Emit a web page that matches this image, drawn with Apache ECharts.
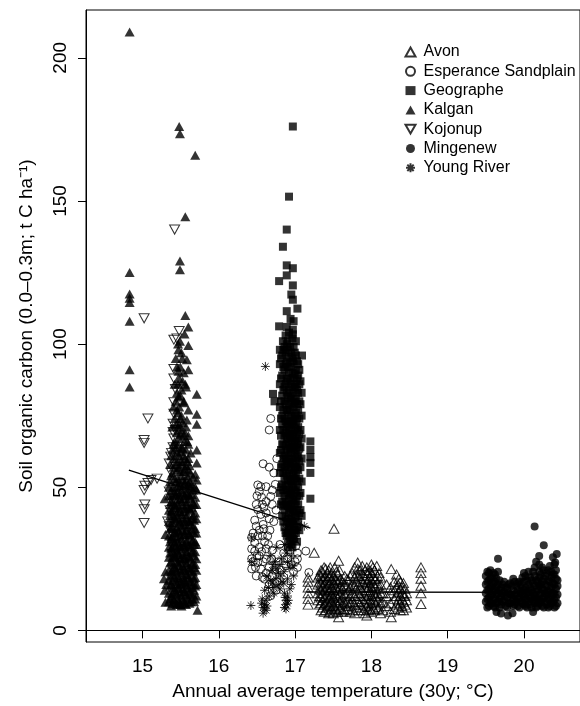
<!DOCTYPE html>
<html>
<head>
<meta charset="utf-8">
<script src="https://cdn.jsdelivr.net/npm/echarts@6/dist/echarts.min.js"></script>
<style>
  html, body { margin: 0; padding: 0; background: #fff; }
  #chart { width: 580px; height: 706px; }
</style>
</head>
<body>
<div id="chart"></div>
<script>
// tick labels
const xTicks = [15, 16, 17, 18, 19, 20]
const yTicks = [0, 50, 100, 150, 200]

// [temperature, carbon] points
const kalganSparse = [
  [14.83, 209], [14.83, 125], [14.83, 117.5], [14.83, 116], [14.83, 114.5], [14.83, 108], [14.83, 91], [14.83, 85],
  [15.48, 176], [15.49, 173.5], [15.69, 166], [15.56, 144.5], [15.49, 129], [15.49, 126], [15.56, 110], [15.6, 106],
  [15.55, 103.5], [15.49, 101], [15.6, 99.5], [15.47, 98], [15.52, 95], [15.58, 94.5], [15.6, 91], [15.47, 90.5],
  [15.56, 86], [15.71, 82.5], [15.47, 81.5], [15.54, 79.5], [15.71, 75.5], [15.6, 77], [15.71, 72], [15.58, 73.5],
  [15.6, 68], [15.55, 66], [15.71, 63], [15.71, 58.5], [15.69, 54.5], [15.71, 52.5],
  [15.3, 20.5], [15.28, 18], [15.31, 16], [15.29, 14], [15.3, 9.8], [15.29, 46], [15.3, 33.5], [15.72, 7], [15.49, 9.4]
]
// columns of the dense Kalgan block: [temperature, carbon values]
const kalganCore = [
  [15.345, [10, 13, 17.5, 21, 25.5, 29, 33, 38, 42, 47, 50]],
  [15.36, [11, 15.5, 19, 23.5, 27, 31, 35.5, 40, 44, 52, 58]],
  [15.375, [8.5, 12, 16, 20.5, 24, 28.5, 32, 36, 41.5, 45, 49, 54, 61]],
  [15.39, [9.5, 13, 17.5, 21, 25.5, 29, 33, 37.5, 42, 47, 55, 63, 71]],
  [15.405, [11, 15, 19.5, 23, 27.5, 31.5, 35.5, 40, 44.5, 50, 57, 65, 78]],
  [15.42, [10.5, 14, 18.5, 22, 26, 30.5, 34, 39, 43.5, 48, 53, 60, 66, 74, 86]],
  [15.435, [9.5, 13.5, 17, 21.5, 25.5, 29.5, 34, 38.5, 43, 47.5, 52, 58, 64, 72, 80, 95]],
  [15.45, [9, 12.5, 16, 20.5, 24, 28, 32.5, 36, 41, 45.5, 50, 56, 62, 69, 77, 83, 92]],
  [15.465, [11, 15, 19, 23.5, 27, 31, 35, 39.5, 44, 48.5, 53, 59, 65, 71, 76, 86, 100]],
  [15.48, [10, 14.5, 18, 22.5, 26.5, 30, 34.5, 38, 42.5, 47, 51.5, 57, 61, 67, 72, 78, 88]],
  [15.495, [9, 13, 16.5, 21, 25, 29, 33, 37.5, 41.5, 46, 50.5, 55.5, 62.5, 68.5, 74, 82, 92]],
  [15.51, [8.5, 12, 16.5, 20, 24.5, 28.5, 32, 36.5, 40.5, 45, 49, 54, 59, 64, 70, 75, 84, 97]],
  [15.525, [10.5, 14.5, 18.5, 22.5, 26.5, 30.5, 35, 39, 43.5, 48, 52.5, 58, 63.5, 72.5, 87]],
  [15.54, [10, 13.5, 17, 21.5, 25, 29.5, 33.5, 37, 41.5, 46, 50.5, 55.5, 61, 68, 80, 90]],
  [15.555, [9.5, 13.5, 17.5, 21, 25.5, 29.5, 33.5, 38, 42.5, 47, 51.5, 56.5, 60, 69]],
  [15.57, [9, 12.5, 16, 19.5, 23.5, 27.5, 31, 35, 39.5, 44, 48, 52.5, 57.5, 63, 71, 85]],
  [15.585, [11.5, 15.5, 19.5, 23.5, 27.5, 31.5, 36, 40.5, 45, 49.5, 54, 59, 66]],
  [15.6, [11, 14.5, 18.5, 22, 26, 30, 34, 38.5, 43, 47.5, 51, 56, 60, 65]],
  [15.615, [9.5, 13.5, 17, 21.5, 25.5, 29.5, 33.5, 38, 42.5, 47, 52, 57.5]],
  [15.63, [10, 13, 17, 21, 25, 29, 33, 37, 42, 46, 50, 55, 62]],
  [15.645, [11, 15, 19, 23, 27, 31, 35, 39, 43, 47.5, 51]],
  [15.66, [12.5, 16, 20.5, 23.5, 28, 31.5, 36.5, 40, 44.5, 49, 53.5]],
  [15.675, [10, 14, 18, 22, 26, 30, 34, 38.5, 44]],
  [15.69, [11, 15.5, 18.5, 23, 27.5, 31, 35.5, 41, 46.5, 50]],
  [15.705, [12, 16, 21, 25, 30, 34, 39, 44, 49]]
]
const kojonup = [
  [15.02, 109], [15.07, 74], [15.02, 66.5], [15.02, 65.5], [15.03, 50.5], [15.02, 49], [15.03, 44], [15.02, 42.3],
  [15.02, 37.5], [15.19, 53], [15.11, 52.5], [15.07, 51.5],
  [15.42, 140], [15.48, 104.6], [15.45, 102], [15.41, 101.5], [15.41, 91.3], [15.41, 88], [15.43, 84.3], [15.41, 79.7],
  [15.41, 75.7], [15.4, 72.2], [15.4, 69.3], [15.41, 67], [15.4, 64], [15.37, 60.7], [15.35, 58.3], [15.38, 55],
  [15.35, 48.5], [15.37, 46], [15.33, 38], [15.35, 36.4], [15.37, 34.7], [15.39, 26.7], [15.5, 51], [15.51, 16.3],
  [15.39, 30], [15.36, 42], [15.44, 57], [15.38, 62], [15.43, 70], [15.42, 45], [15.4, 40]
]
const geographeSparse = [
  [16.97, 176], [16.92, 151.5], [16.89, 140], [16.84, 134], [16.89, 127.5], [16.97, 126.5], [16.89, 124], [16.79, 122],
  [16.97, 120.5], [16.95, 117.3], [16.97, 115.5], [17.03, 112.4], [16.89, 111.5], [16.94, 108.8], [16.79, 106.2],
  [16.97, 105], [16.97, 103.4], [16.84, 101], [17.01, 101], [17.09, 96],
  [17.2, 66], [17.2, 63], [17.2, 60.5], [17.2, 58.5], [17.2, 55], [17.2, 46], [16.71, 82.6], [16.73, 80]
]
const geographeCore = [
  [16.8, [48, 55, 62, 70, 78, 86, 93, 98]],
  [16.815, [44, 50, 57, 63, 68, 74, 80, 88, 95]],
  [16.83, [40, 45, 51, 58, 65, 72, 75, 82, 89, 96]],
  [16.845, [38, 43.5, 49, 55, 60, 65, 70, 77, 84, 92, 98]],
  [16.86, [36, 42, 47, 53, 57, 61, 68, 74, 80, 85, 91, 99]],
  [16.875, [34, 39.5, 45, 50.5, 55.5, 60, 64.5, 69, 73, 79, 86, 93, 97, 103]],
  [16.89, [33, 38, 44, 49, 54, 59, 63, 67, 71, 77, 83, 88, 94, 100, 106]],
  [16.905, [29, 34, 39, 43.5, 48, 52.5, 58, 62, 67, 72, 76.5, 81.5, 87, 92, 98, 101]],
  [16.92, [31, 36, 41, 46, 50.5, 56, 60, 65, 69.5, 74, 79, 84, 90, 95.5, 104]],
  [16.935, [32.5, 37.5, 42.5, 47.5, 53, 58.5, 63.5, 68, 72, 77, 82, 88, 93.5, 99]],
  [16.95, [30, 35, 39, 43.5, 48, 52, 57, 62, 66, 70, 75, 81, 86, 92, 97]],
  [16.965, [29, 33.5, 38, 41.5, 45.5, 50, 54.5, 60, 64, 68.5, 73, 79.5, 85, 90, 95, 102]],
  [16.98, [32, 37, 42, 46, 51, 55, 59, 64, 68, 73, 78, 83, 88, 94, 99, 108]],
  [16.995, [35, 39.5, 44, 48.5, 53, 57, 61.5, 66, 70.5, 75, 80, 85, 89.5, 97]],
  [17.01, [34, 40, 45, 49, 54, 58, 63, 67, 72, 76, 81, 86, 91, 96]],
  [17.025, [31, 36, 42, 47, 52, 56.5, 60.5, 65, 69.5, 74, 79, 84, 88, 94]],
  [17.04, [38, 44, 50, 56, 61, 66, 71, 77, 83, 89, 93]],
  [17.055, [35, 41, 47, 53, 59, 63.5, 68.5, 74, 80, 86, 91]],
  [17.07, [42, 48, 57, 64, 70, 79, 87]],
  [17.085, [40, 52, 60, 67, 75, 83]]
]
const esperance = [
  [16.68, 74], [16.66, 70], [16.58, 58.2], [16.66, 57], [16.51, 50.8], [16.55, 50.2], [16.62, 50.2], [16.53, 48.5],
  [16.68, 46.8], [16.62, 45], [16.51, 42.2], [16.55, 40.5], [16.62, 41], [16.49, 36.4], [16.53, 35], [16.51, 33],
  [16.47, 30.6], [16.53, 29], [16.47, 27.7], [16.53, 26], [16.51, 23.7], [16.55, 21.5], [16.62, 24.9], [16.6, 17.9],
  [16.66, 16], [16.68, 12.1], [16.75, 14], [17.03, 22], [17.03, 25], [17.03, 27], [17.01, 29.5], [16.98, 31.8],
  [17.14, 27.7], [17.18, 20.2], [16.43, 21.5], [16.43, 25], [16.43, 28.5], [16.43, 32.5], [16.49, 19], [16.58, 37],
  [16.64, 33], [16.7, 28], [16.72, 38], [16.75, 42], [16.57, 44], [16.6, 31], [16.66, 22], [16.7, 19], [16.78, 24],
  [16.8, 30], [16.85, 27], [16.9, 25], [16.72, 55], [16.76, 60],
  [16.45, 34], [16.47, 38.5], [16.49, 44], [16.5, 47], [16.56, 46.5], [16.59, 43], [16.45, 24], [16.48, 22],
  [16.5, 26], [16.56, 27.5], [16.58, 24], [16.57, 33], [16.59, 35.5], [16.62, 28.5], [16.65, 30], [16.67, 35],
  [16.66, 39], [16.7, 44], [16.7, 49], [16.74, 51], [16.69, 25], [16.73, 21], [16.76, 17], [16.62, 20],
  [16.57, 18.5], [16.82, 21], [16.88, 22.5], [16.93, 28], [17.0, 24], [16.98, 20.5], [16.95, 23]
]
const youngRiver = [
  [16.61, 92.2], [16.43, 32.3], [16.43, 24], [16.42, 8.7], [16.58, 6], [16.6, 7.5], [16.6, 9], [16.62, 10.5],
  [16.57, 11], [16.88, 7.5], [16.88, 9], [16.88, 10.5], [16.9, 12], [16.86, 13], [16.6, 14], [16.65, 15],
  [16.7, 16.5], [16.75, 18], [16.8, 14.5], [16.83, 17], [16.78, 20], [16.7, 21], [16.85, 20.5], [16.9, 18],
  [16.95, 16], [16.98, 19], [16.92, 22], [16.74, 24], [16.82, 25], [16.88, 27], [16.95, 26], [16.88, 34],
  [16.88, 35.5], [16.97, 38], [17.12, 36.4], [17.03, 35], [17.05, 37], [16.66, 12], [16.72, 13], [16.68, 26],
  [16.76, 29], [16.63, 19], [16.93, 30],
  [16.58, 8], [16.62, 7], [16.63, 8.5], [16.56, 9.5], [16.86, 8], [16.9, 9.5], [16.87, 11.5], [16.91, 10.5],
  [16.72, 15], [16.68, 17.5], [16.78, 16], [16.81, 19], [16.85, 16.5], [16.93, 14.5], [16.75, 21.5], [16.71, 23],
  [16.8, 23], [16.9, 24], [16.97, 22.5], [16.86, 30], [16.92, 33], [17.0, 32], [16.95, 36]
]
const avonSparse = [
  [17.17, 9], [17.17, 11], [17.17, 13], [17.17, 15], [17.17, 17], [17.17, 18.5],
  [17.25, 27.1], [17.51, 35.5], [17.57, 24.3], [17.82, 23.7], [17.82, 21.5], [18.07, 22.5], [18.26, 21.4],
  [18.36, 18], [17.57, 4.6], [17.94, 5.2], [18.26, 4.6], [18.65, 22], [18.65, 20], [18.65, 18], [18.65, 15.6],
  [18.65, 13], [18.65, 9.2]
]
const avonCore = [
  [17.3, [10.5, 13, 16, 18.5]],
  [17.32, [9, 12, 14.5, 17, 19.5]],
  [17.34, [7, 9.5, 11.5, 14, 16.5, 19, 21]],
  [17.36, [8, 10.5, 13, 15.5, 18, 20.5]],
  [17.38, [6.5, 9, 11.5, 14, 16, 18.5, 22]],
  [17.4, [7, 9.5, 12, 14.5, 17, 19, 21.5]],
  [17.42, [8, 10, 12.5, 15, 17.5, 20]],
  [17.44, [6, 8.5, 11, 13.5, 16, 18.5, 21]],
  [17.46, [6.5, 9, 11.5, 14, 16.5, 19, 22]],
  [17.48, [7.5, 10, 12.5, 15, 17.5, 20]],
  [17.5, [6, 8.5, 11.5, 14, 16.5, 19]],
  [17.52, [8, 10.5, 13, 16, 18, 22]],
  [17.54, [7, 9.5, 12, 14.5, 17.5, 20.5]],
  [17.56, [6.5, 9, 11.5, 14, 17, 19.5]],
  [17.58, [7.5, 10, 12.5, 15, 17.5, 21]],
  [17.6, [8, 10.5, 13, 15.5, 18]],
  [17.62, [6.5, 9, 11.5, 14.5, 17]],
  [17.65, [7, 9.5, 12.5, 16, 19]],
  [17.68, [7.5, 10, 13, 15.5, 18]],
  [17.7, [8.5, 11, 14, 17.5]],
  [17.72, [6.5, 9.5, 12, 15, 19]],
  [17.75, [7, 10, 13, 16, 20]],
  [17.78, [6, 9, 12, 15.5, 18.5, 22]],
  [17.8, [8, 11, 14.5, 17, 19.5]],
  [17.83, [7, 10, 13, 16, 19]],
  [17.85, [9, 12, 15, 18, 21]],
  [17.88, [8, 11, 14, 17, 20, 22.5]],
  [17.9, [7, 10, 13, 16.5, 19]],
  [17.92, [6, 9, 12, 15, 18, 21]],
  [17.94, [8.5, 11, 14, 17, 20, 22]],
  [17.96, [7, 9.5, 12.5, 15, 17.5, 20]],
  [17.98, [7.5, 10.5, 13.5, 16, 18.5, 21]],
  [18.0, [6.5, 9.5, 12, 15, 17.5, 20, 23]],
  [18.02, [8, 11, 14, 16.5, 19, 22]],
  [18.04, [7, 10, 12.5, 15.5, 18, 21]],
  [18.06, [9, 12, 15, 18]],
  [18.08, [7.5, 10.5, 13, 16.5, 19]],
  [18.1, [8, 11.5, 14.5, 20]],
  [18.12, [6, 9.5, 13, 16, 18.5]],
  [18.15, [7, 10, 13]],
  [18.2, [8.5, 12, 16]],
  [18.25, [6.5, 9.5, 13, 15]],
  [18.3, [7.5, 11, 14, 17]],
  [18.33, [9, 12, 15, 19.5]],
  [18.35, [8, 10.5, 13.5, 16]],
  [18.38, [7, 9.5, 12, 14.5, 17]],
  [18.4, [8.5, 11, 13, 15]],
  [18.42, [7, 10, 12.5, 16.5]],
  [18.44, [9, 12, 14.5]],
  [18.46, [8, 10.5, 13]]
]
const mingenewSparse = [
  [20.14, 36.3], [20.26, 29.7], [19.66, 25], [20.2, 26], [20.38, 25.5], [20.2, 23], [20.41, 23.7], [20.43, 26.7],
  [19.64, 6.4], [19.7, 5.9], [19.79, 5.2], [19.85, 6], [20.12, 6.4]
]
const mingenewCore = [
  [19.5, [10, 13, 16, 19]], [19.52, [8, 11, 14, 17, 20.5]], [19.54, [8.5, 11.5, 14.5, 17.5, 20]],
  [19.56, [9.5, 12, 15, 18, 21]], [19.58, [9.5, 12.5, 15.5, 18.5]], [19.6, [8.5, 10.5, 13.5, 16.5, 20]],
  [19.62, [8, 11, 14, 17, 19.5]], [19.64, [9.5, 12.5, 15, 18]], [19.66, [10, 13, 16, 20.5]],
  [19.68, [8, 11, 14, 17.5]], [19.7, [9, 12, 15]], [19.72, [10, 13, 16]],
  [19.74, [10.5, 13.5, 17]], [19.76, [8.5, 12, 15]], [19.78, [8, 11.5, 14.5]],
  [19.8, [9.5, 13, 16]], [19.82, [9.5, 12.5, 16.5]], [19.84, [10, 12.5, 15.5]],
  [19.86, [8.5, 11, 14, 18]], [19.88, [9, 12, 17]], [19.9, [10, 13, 15.5]],
  [19.92, [8.5, 11, 14, 16.5]], [19.94, [8, 11.5, 17]], [19.96, [10, 13.5, 16]],
  [19.98, [9.5, 12.5, 14.5, 18.5]], [20.0, [9, 12, 14, 17, 20]], [20.02, [8.5, 11, 15, 19]],
  [20.04, [8, 10.5, 13, 17.5]], [20.06, [10, 13.5, 16, 20.5]], [20.08, [9, 12, 15, 18.5]],
  [20.1, [8, 11.5, 14, 17.5]], [20.12, [10.5, 13, 16.5, 20.5]], [20.14, [9.5, 12, 15.5, 19, 22]],
  [20.16, [8, 10.5, 13.5, 17.5, 24]], [20.18, [8.5, 11, 14.5, 17]], [20.2, [9.5, 12, 15.5, 18.5, 20.5]],
  [20.22, [10, 13, 16, 19.5]], [20.24, [8.5, 11, 14.5, 17, 22]], [20.26, [8, 11.5, 14, 18, 21]],
  [20.28, [10, 13, 16, 19]], [20.3, [9, 12.5, 15.5, 20]], [20.32, [8, 11, 13.5, 17.5, 21]],
  [20.34, [8.5, 11, 14, 17, 22.5]], [20.36, [9.5, 12, 15, 18.5, 20.5]], [20.38, [10, 13, 16.5, 19.5]],
  [20.4, [8, 10.5, 13, 16, 19.5, 23]], [20.42, [8.5, 11.5, 14.5, 18, 21]], [20.44, [9.5, 12.5, 15.5, 17.5]]
]
// fitted lines
const trendWest = [[14.82, 56.0], [17.2, 35.7]]
const trendEast = [[17.15, 13.4], [20.45, 13.3]]

const legendNames = ['Avon', 'Esperance Sandplain', 'Geographe', 'Kalgan', 'Kojonup', 'Mingenew', 'Young River']

function unpack(cols) {
  let out = []
  cols.forEach(function (c) {
    c[1].forEach(function (y) { out.push([c[0], y]) })
  })
  return out
}

const font = 'Liberation Sans, Arial, Helvetica, sans-serif'
const downTri = 'path://M0,0L10,0L5,8.66Z'
const asterisk = 'path://M5,0L5,10M0,5L10,5M1.46,1.46L8.54,8.54M8.54,1.46L1.46,8.54'
const filled = { color: '#000' }
const open = { color: 'none', borderColor: '#000', borderWidth: 1 }

function pointSeries(name, data, symbol, size, style) {
  return {
    name: name,
    type: 'scatter',
    data: data,
    symbol: symbol,
    symbolSize: size,
    itemStyle: style,
    silent: true,
  }
}

let chart = echarts.init(document.getElementById('chart'))
let option = {
  animation: false,
  backgroundColor: '#fff',
  textStyle: { fontFamily: font },
  grid: {
    left: 86,
    top: 10,
    width: 500,
    height: 637,
    show: true,
    borderColor: '#000',
    borderWidth: 1,
  },
  legend: {
    data: legendNames,
    orient: 'vertical',
    left: 398,
    top: 39,
    itemWidth: 10,
    itemHeight: 9,
    itemGap: 3.3,
    selectedMode: false,
    textStyle: { fontFamily: font, fontSize: 16, lineHeight: 16, color: '#000', padding: [0, 0, 0, 3] },
  },
  xAxis: {
    type: 'value',
    min: 14.258,
    max: 20.735,
    name: 'Annual average temperature (30y; °C)',
    nameLocation: 'middle',
    nameGap: 40,
    nameTextStyle: { fontFamily: font, fontSize: 19, color: '#000' },
    axisLine: { show: true, lineStyle: { color: '#000', width: 1 } },
    axisTick: { show: true, length: 8, customValues: xTicks, lineStyle: { color: '#000' } },
    axisLabel: { customValues: xTicks, fontFamily: font, fontSize: 19, color: '#000', margin: 15 },
    splitLine: { show: false },
  },
  yAxis: {
    type: 'value',
    min: -4.06,
    max: 216.7,
    name: 'Soil organic carbon (0.0–0.3m; t C ha⁻¹)',
    nameLocation: 'middle',
    nameRotate: 90,
    nameGap: 50,
    nameTextStyle: { fontFamily: font, fontSize: 19, color: '#000' },
    axisLine: { show: true, lineStyle: { color: '#000', width: 1 } },
    axisTick: { show: true, length: 8, customValues: yTicks, lineStyle: { color: '#000' } },
    axisLabel: { customValues: yTicks, rotate: 90, fontFamily: font, fontSize: 19, color: '#000', margin: 16 },
    splitLine: { show: false },
  },
  series: [
    pointSeries('Kalgan', kalganSparse.concat(unpack(kalganCore)), 'triangle', [10, 9], filled),
    pointSeries('Kojonup', kojonup, downTri, [10, 9], open),
    pointSeries('Geographe', geographeSparse.concat(unpack(geographeCore)), 'rect', 8, filled),
    pointSeries('Esperance Sandplain', esperance, 'circle', 8, open),
    pointSeries('Young River', youngRiver, asterisk, 9, open),
    pointSeries('Avon', avonSparse.concat(unpack(avonCore)), 'triangle', [10, 9], open),
    pointSeries('Mingenew', mingenewSparse.concat(unpack(mingenewCore)), 'circle', 8, filled),
    {
      type: 'line',
      data: trendWest,
      symbol: 'none',
      silent: true,
      lineStyle: { color: '#000', width: 1.3 },
    },
    {
      type: 'line',
      data: trendEast,
      symbol: 'none',
      silent: true,
      lineStyle: { color: '#000', width: 1.3 },
    },
  ],
}
chart.setOption(option)
</script>
</body>
</html>
